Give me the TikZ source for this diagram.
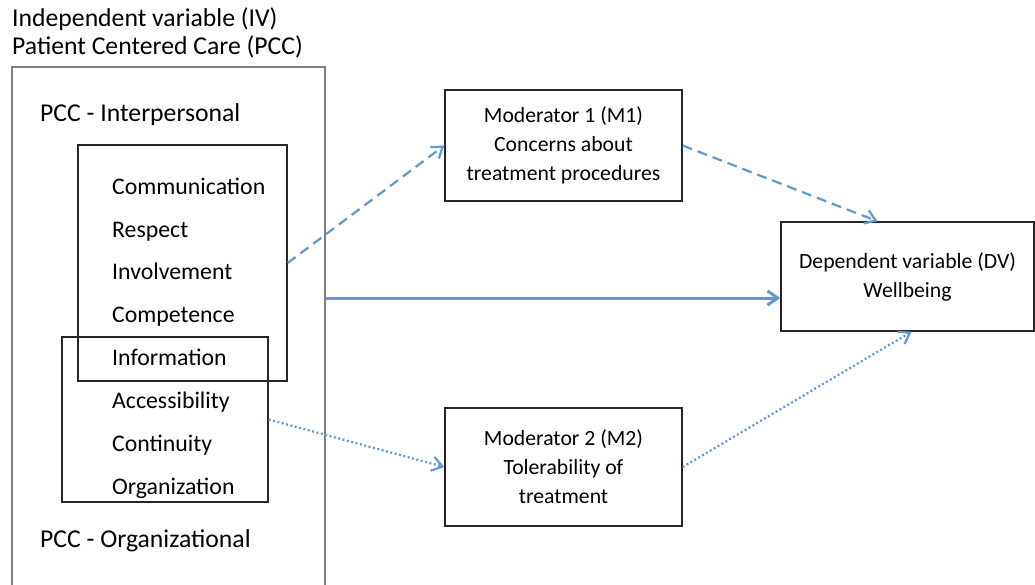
\documentclass[tikz,border=0pt]{standalone}
\usepackage{fontspec}
\setmainfont{Carlito}
\usetikzlibrary{arrows.meta,positioning,calc}
\definecolor{lineBlue}{RGB}{98,152,211}
\colorlet{BoxGrey}{black!50}
\colorlet{BoxDark}{black!85}

\begin{document}
\begin{tikzpicture}[
    x=1pt,y=-1pt,
    bigtext/.style={font=\fontsize{25.7}{30}\selectfont,inner sep=0pt},
    itemtext/.style={font=\fontsize{23.8}{28}\selectfont,inner sep=0pt,anchor=base west},
    varbox/.style={draw=BoxDark,line width=1.4pt,inner sep=0pt,align=center,font=\fontsize{21.7}{29}\selectfont},
    groupbox/.style={draw=BoxDark,line width=1.3pt,inner sep=0pt},
    arr/.style={-{Straight Barb[length=3.6mm,width=5mm]},line width=2.2pt,lineBlue}
  ]
    \useasboundingbox (0,0) rectangle (1035,585);
    \clip (0,0) rectangle (1035,585);
    % independent variable
    \node[bigtext,anchor=base west] (title1) at (12,27) {Independent variable (IV)};
    \node[bigtext,anchor=base west] (title2) at (12,55) {Patient Centered Care (PCC)};
    \node[draw=BoxGrey,line width=1.6pt,minimum width=313,minimum height=533] (iv) at (168.5,333.5) {};
    \node[bigtext,anchor=base west] (inter) at (40,122) {PCC - Interpersonal};
    \node[bigtext,anchor=base west] (orga) at (40,547) {PCC - Organizational};
    \node[groupbox,minimum width=209,minimum height=236] (ip) at (182.5,263) {};
    \node[groupbox,minimum width=206,minimum height=165] (og) at (165,419.5) {};
    \node[itemtext] (comm) at (112,195) {Communication};
    \node[itemtext] (resp) at (112,238) {Respect};
    \node[itemtext] (invo) at (112,279) {Involvement};
    \node[itemtext] (comp) at (112,322) {Competence};
    \node[itemtext] (info) at (112,365) {Information};
    \node[itemtext] (acce) at (112,408) {Accessibility};
    \node[itemtext] (cont) at (112,451) {Continuity};
    \node[itemtext] (orgz) at (112,494) {Organization};
    % moderators and dependent variable
    \node[varbox,minimum width=237,minimum height=111] (m1) at (563.5,145.5) {Moderator 1 (M1)\\Concerns about\\treatment procedures};
    \node[varbox,minimum width=237,minimum height=118] (m2) at (563.5,467) {Moderator 2 (M2)\\Tolerability of\\treatment};
    \node[varbox,minimum width=253,minimum height=109] (dv) at (907.5,276.5) {Dependent variable (DV)\\Wellbeing};
    % paths
    \draw[arr,line width=3pt] (iv.east |- 0,298) -- (dv.west |- 0,298);
    \draw[arr,dash pattern=on 10pt off 6pt] (ip.east) -- (m1.west);
    \draw[arr,dash pattern=on 10pt off 6pt] (m1.east) -- ([xshift=-30pt]dv.north);
    \draw[arr,dash pattern=on 2pt off 2.5pt] (og.east) -- (m2.west);
    \draw[arr,dash pattern=on 2pt off 2.5pt] (m2.east) -- ([xshift=4pt]dv.south);
  \end{tikzpicture}
\end{document}
